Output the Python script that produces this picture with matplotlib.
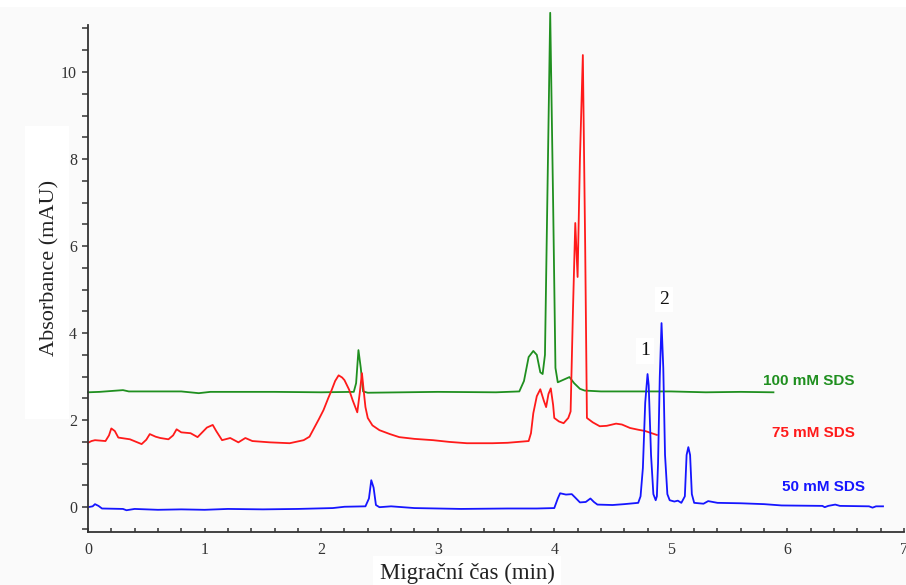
import matplotlib
matplotlib.use("Agg")
import matplotlib.pyplot as plt
from matplotlib.ticker import MultipleLocator
from matplotlib.patches import Rectangle

# ---- data ----
t_100 = [0.00, 0.10, 0.25, 0.30, 0.35, 0.80, 0.95, 1.05, 1.60, 2.00, 2.28, 2.30, 2.32, 2.34, 2.36, 2.40,
         3.00, 3.50, 3.70, 3.74, 3.78, 3.82, 3.85, 3.88, 3.90, 3.92, 3.94, 3.965, 3.99, 4.01, 4.03, 4.08,
         4.13, 4.17, 4.22, 4.26, 4.40, 5.00, 5.30, 5.60, 5.88]
a_100 = [2.64, 2.65, 2.68, 2.69, 2.66, 2.66, 2.62, 2.65, 2.65, 2.64, 2.65, 2.85, 3.61, 3.20, 2.66, 2.63,
         2.65, 2.64, 2.66, 2.90, 3.45, 3.59, 3.50, 3.10, 3.06, 3.50, 7.00, 11.36, 7.00, 3.20, 2.87, 2.93,
         2.99, 2.85, 2.72, 2.68, 2.66, 2.66, 2.64, 2.65, 2.64]

t_75 = [0.00, 0.03, 0.06, 0.15, 0.18, 0.20, 0.23, 0.26, 0.36, 0.46, 0.50, 0.53, 0.58, 0.62, 0.69, 0.73,
        0.76, 0.80, 0.88, 0.94, 0.98, 1.02, 1.07, 1.10, 1.15, 1.22, 1.29, 1.35, 1.41, 1.56, 1.73, 1.85,
        1.90, 1.93, 1.98, 2.02, 2.06, 2.09, 2.12, 2.15, 2.18, 2.20, 2.24, 2.27, 2.31, 2.33, 2.35, 2.37,
        2.38, 2.40, 2.44, 2.50, 2.59, 2.67, 2.80, 2.96, 3.10, 3.25, 3.47, 3.60, 3.78, 3.80, 3.82, 3.85,
        3.88, 3.91, 3.93, 3.95, 3.97, 3.99, 4.00, 4.04, 4.08, 4.12, 4.14, 4.16, 4.18, 4.20, 4.22, 4.245,
        4.265, 4.28, 4.33, 4.39, 4.45, 4.53, 4.58, 4.65, 4.72, 4.78, 4.88]
a_75 = [1.48, 1.52, 1.54, 1.52, 1.65, 1.81, 1.75, 1.60, 1.56, 1.45, 1.55, 1.68, 1.62, 1.59, 1.56, 1.65,
        1.79, 1.72, 1.70, 1.61, 1.72, 1.83, 1.89, 1.75, 1.54, 1.59, 1.49, 1.59, 1.52, 1.49, 1.47, 1.54,
        1.62, 1.77, 2.02, 2.23, 2.50, 2.69, 2.90, 3.03, 2.98, 2.92, 2.70, 2.46, 2.18, 2.60, 3.08, 2.55,
        2.30, 2.05, 1.88, 1.77, 1.68, 1.61, 1.57, 1.54, 1.50, 1.47, 1.47, 1.48, 1.52, 1.70, 2.16, 2.55,
        2.71, 2.45, 2.30, 2.60, 2.73, 2.35, 2.05, 1.97, 1.93, 2.05, 2.20, 4.50, 6.53, 5.29, 8.00, 10.39,
        6.00, 2.05, 1.95, 1.86, 1.87, 1.92, 1.90, 1.82, 1.78, 1.75, 1.66]

t_50 = [0.00, 0.04, 0.06, 0.09, 0.12, 0.30, 0.33, 0.40, 0.60, 0.80, 1.00, 1.20, 1.50, 1.80, 2.10, 2.20,
        2.38, 2.41, 2.43, 2.45, 2.47, 2.50, 2.60, 2.80, 3.20, 3.60, 3.85, 4.00, 4.03, 4.05, 4.10, 4.15,
        4.18, 4.22, 4.27, 4.31, 4.34, 4.37, 4.50, 4.60, 4.72, 4.74, 4.76, 4.78, 4.80, 4.81, 4.83, 4.85,
        4.87, 4.88, 4.89, 4.905, 4.92, 4.935, 4.95, 4.97, 4.99, 5.03, 5.06, 5.09, 5.12, 5.135, 5.15, 5.165,
        5.18, 5.20, 5.28, 5.32, 5.40, 5.60, 5.80, 5.95, 6.30, 6.32, 6.35, 6.41, 6.45, 6.70, 6.73, 6.76,
        6.82]
a_50 = [0.00, 0.02, 0.07, 0.03, -0.03, -0.04, -0.07, -0.04, -0.06, -0.05, -0.06, -0.04, -0.05, -0.04, -0.02, 0.01,
        0.02, 0.20, 0.62, 0.45, 0.05, 0.00, 0.02, -0.02, -0.04, -0.03, -0.03, -0.02, 0.20, 0.32, 0.29, 0.30,
        0.22, 0.11, 0.12, 0.20, 0.12, 0.06, 0.05, 0.07, 0.10, 0.25, 0.90, 2.40, 3.06, 2.80, 1.20, 0.30,
        0.16, 0.25, 1.00, 3.00, 4.23, 3.20, 1.20, 0.30, 0.16, 0.13, 0.15, 0.10, 0.25, 1.20, 1.38, 1.20,
        0.30, 0.10, 0.08, 0.14, 0.10, 0.09, 0.07, 0.04, 0.03, 0.00, 0.03, 0.06, 0.03, 0.02, -0.01, 0.02,
        0.02]

series_labels = ["100 mM SDS", "75 mM SDS", "50 mM SDS"]
x_label = "Migrační čas (min)"
y_label = "Absorbance (mAU)"
peak_labels = ["1", "2"]

# ---- figure ----
W, H = 906, 585
fig = plt.figure(figsize=(W / 100, H / 100), dpi=100, facecolor="#fafafa")
fig.patches.append(Rectangle((0, 1 - 7 / H), 1, 7 / H, transform=fig.transFigure,
                             facecolor="white", edgecolor="none", zorder=0))
fig.patches.append(Rectangle((25 / W, (H - 419) / H), 44 / W, 293 / H, transform=fig.transFigure,
                             facecolor="white", edgecolor="none", zorder=0))

ax = fig.add_axes([88 / W, (H - 532) / H, 816 / W, 507 / H])
ax.set_facecolor("#fafafa")
ax.patch.set_alpha(0)

green = "#1f8f1f"
red = "#ff1a1a"
blue = "#1515ff"
lw = 1.3
ax.plot(t_100, a_100, color=green, lw=lw, clip_on=False, solid_joinstyle="round")
ax.plot(t_75, a_75, color=red, lw=lw, clip_on=False, solid_joinstyle="round")
ax.plot(t_50, a_50, color=blue, lw=lw, clip_on=False, solid_joinstyle="round")

ax.set_xlim(0, 7)
ax.set_ylim(-0.57, 11.08)

for s in ["top", "right"]:
    ax.spines[s].set_visible(False)
for s in ["left", "bottom"]:
    ax.spines[s].set_color("#333333")
    ax.spines[s].set_linewidth(1.3)

ax.xaxis.set_major_locator(MultipleLocator(1))
ax.xaxis.set_minor_locator(MultipleLocator(0.2))
ax.yaxis.set_major_locator(MultipleLocator(2))
ax.yaxis.set_minor_locator(MultipleLocator(0.5))
ax.tick_params(axis="x", which="both", direction="in", length=3, width=1.1, color="#333333")
ax.tick_params(axis="y", which="both", direction="out", length=4, width=1.1, color="#333333")
ax.tick_params(axis="x", which="major", pad=7)
ax.tick_params(axis="y", which="major", pad=4)
for lab in ax.get_xticklabels() + ax.get_yticklabels():
    lab.set_fontfamily("Liberation Serif")
    lab.set_fontsize(11.5)
    lab.set_color("#333333")

fig.text(50 / W, 1 - 268 / H, y_label, rotation=90, ha="center", va="center",
         fontsize=16, family="Liberation Serif", color="#222222")
fig.text(467 / W, 1 - 573 / H, x_label, ha="center", va="center",
         fontsize=16.5, family="Liberation Serif", color="#222222",
         bbox=dict(facecolor="white", edgecolor="none", pad=5))

lab_font = dict(family="Liberation Sans", fontweight="bold", fontsize=11, va="center", ha="left")
ax.text(5.79, 2.90, series_labels[0], color=green, **lab_font)
ax.text(5.87, 1.70, series_labels[1], color=red, **lab_font)
ax.text(5.95, 0.46, series_labels[2], color=blue, **lab_font)

pk_font = dict(family="Liberation Serif", fontsize=14, ha="center", va="center", color="#111111",
               bbox=dict(facecolor="white", edgecolor="none", pad=3))
ax.text(4.78, 3.59, peak_labels[0], **pk_font)
ax.text(4.94, 4.78, peak_labels[1], **pk_font)

fig.savefig("out.png", dpi=100, facecolor=fig.get_facecolor())
